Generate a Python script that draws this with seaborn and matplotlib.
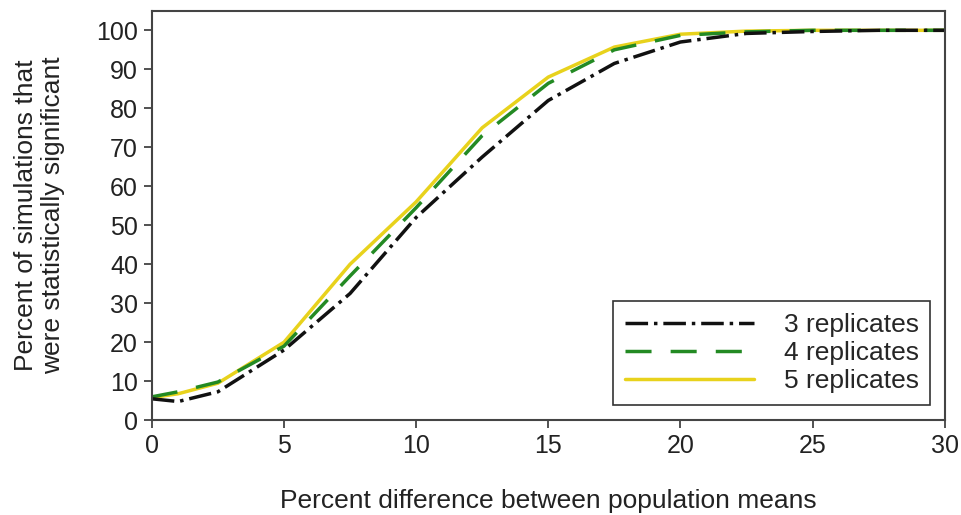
import seaborn as sns
import matplotlib.pyplot as plt
import pandas as pd

# Données
diff = [0, 1, 2.5, 5, 7.5, 10, 12.5, 15, 17.5, 20, 22.5, 25, 27.5, 30]
rep3 = [5.5, 4.8, 7.3, 18, 32.5, 52, 67.5, 82, 91.5, 97, 99.2, 99.7, 100, 100]
rep4 = [6, 7.3, 9.8, 19, 37, 54.5, 73, 86.4, 95, 98.7, 99.6, 100, 100, 100]
rep5 = [5.8, 6.8, 9.5, 20, 40, 56, 75, 88, 95.7, 99, 99.8, 100, 100, 100]

labels = ["3 replicates", "4 replicates", "5 replicates"]

df = pd.concat([
    pd.DataFrame({"diff": diff, "pct": rep3, "serie": labels[0]}),
    pd.DataFrame({"diff": diff, "pct": rep4, "serie": labels[1]}),
    pd.DataFrame({"diff": diff, "pct": rep5, "serie": labels[2]}),
])

sns.set_style("ticks")
plt.rcParams["font.family"] = ["Liberation Sans", "DejaVu Sans"]

couleurs = {labels[0]: "#111111", labels[1]: "#238a23", labels[2]: "#e8d21c"}
tirets = {labels[0]: (6.5, 1.7, 1, 1.7), labels[1]: (7.5, 5.5), labels[2]: ""}

fig = plt.figure(figsize=(9.61, 5.15), dpi=100)
ax = fig.add_axes([0.158, 0.184, 0.825, 0.795])

sns.lineplot(data=df, x="diff", y="pct", hue="serie", style="serie",
             palette=couleurs, dashes=tirets, linewidth=2.5, ax=ax,
             hue_order=labels[::-1], style_order=labels[::-1])

ax.set_xlim(0, 30)
ax.set_ylim(0, 105)
ax.set_xticks(range(0, 31, 5))
ax.set_yticks(range(0, 101, 10))
ax.tick_params(labelsize=18, length=6, width=1.2, color="#333333", labelcolor="#222222", pad=4)
for s in ax.spines.values():
    s.set_visible(True)
    s.set_color("#444444")
    s.set_linewidth(1.5)

ax.set_xlabel("Percent difference between population means", fontsize=19, color="#222222", labelpad=22)
ax.set_ylabel("Percent of simulations that\nwere statistically significant", fontsize=19, color="#222222", labelpad=22)

# Légende dans l'ordre 3, 4, 5
h, l = ax.get_legend_handles_labels()
ordre = [l.index(x) for x in labels]
leg = ax.legend([h[i] for i in ordre], [l[i] for i in ordre], loc="lower right",
                bbox_to_anchor=(0.982, 0.037), borderaxespad=0, fontsize=19,
                handlelength=4.9, handletextpad=1.1, borderpad=0.45, labelspacing=0.15,
                fancybox=False, edgecolor="#333333", framealpha=1)
leg.get_frame().set_linewidth(1.2)

plt.savefig("out.png", dpi=100)
plt.close()
